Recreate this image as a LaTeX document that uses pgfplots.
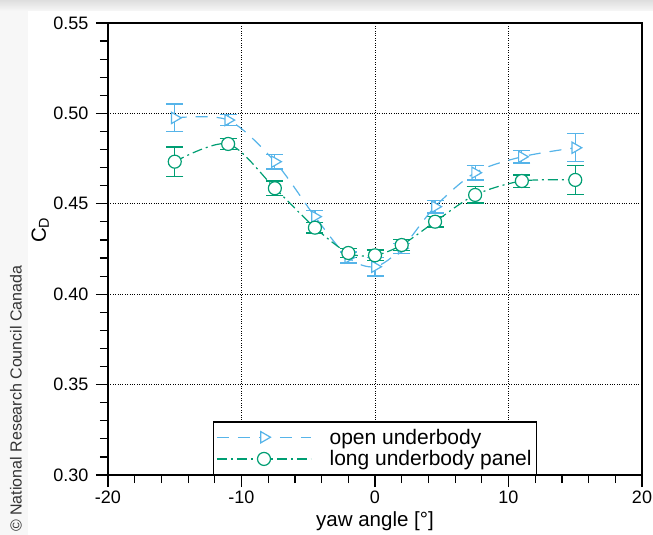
\documentclass[border=0pt]{standalone}
\usepackage{fontspec}
\setmainfont{Liberation Sans}
\usepackage{pgfplots}
\pgfplotsset{compat=1.18}
\definecolor{skyblue}{HTML}{56B4E9}
\definecolor{bgreen}{HTML}{009E73}

\pgfplotstableread{
x     y      e
-15   0.4975 0.0077
-11   0.4963 0.0031
-7.5  0.4733 0.0040
-4.5  0.4429 0.0033
-2    0.4203 0.0030
0     0.4152 0.0052
2     0.4254 0.0028
4.5   0.4484 0.0035
7.5   0.4672 0.0040
11    0.4760 0.0035
15    0.4810 0.0077
}\openbody

\pgfplotstableread{
x     y      e
-15   0.4733 0.0081
-11   0.4831 0.0030
-7.5  0.4586 0.0040
-4.5  0.4368 0.0030
-2    0.4228 0.0025
0     0.4215 0.0030
2     0.4272 0.0030
4.5   0.4401 0.0030
7.5   0.4549 0.0045
11    0.4626 0.0034
15    0.4632 0.0079
}\longpanel

\pgfplotsset{
  errs/.style={forget plot, draw=none, mark=none,
    error bars/.cd, y dir=both, y explicit,
    error bar style={draw=#1, solid, line width=1.2pt},
    error mark options={draw=#1, solid, line width=1.3pt, mark size=8.5pt, rotate=90}},
}

\begin{document}
\begin{tikzpicture}[x=1pt,y=1pt]
\useasboundingbox (-108,-60) rectangle (545,475);
% card shadow
\fill[black!3] (-108,-60) rectangle (-80,464);
\shade[top color=black!13, bottom color=black!3] (-108,464) rectangle (545,475);
\node[rotate=90, anchor=west, text=black!80, font=\fontsize{16}{19}\selectfont, inner sep=0pt]
  at (-92,-57) {© National Research Council Canada};
\begin{axis}[
  at={(0,0)}, anchor=south west,
  scale only axis, width=534pt, height=452pt,
  xmin=-20, xmax=20, ymin=0.30, ymax=0.55,
  xtick={-20,-10,0,10,20}, ytick={0.30,0.35,...,0.56},
  minor x tick num=4, minor y tick num=4,
  tick align=outside, xtick pos=left, ytick pos=left,
  major tick length=12pt, minor tick length=8pt,
  tick style={black, line width=1.2pt},
  axis line style={line width=1.6pt},
  grid=major, major grid style={black, dotted, line width=0.9pt},
  /pgf/number format/assume math mode=true,
  tick label style={font=\fontsize{18}{21}\selectfont},
  yticklabel style={xshift=-4pt, /pgf/number format/.cd, fixed, fixed zerofill, precision=2},
  label style={font=\fontsize{20.5}{24}\selectfont},
  xlabel={yaw angle [°]},
  ylabel={C\textsubscript{D}},
  xlabel style={at={(axis description cs:0.5,-0.102)}, anchor=center},
  ylabel style={at={(axis description cs:-0.127,0.542)}, anchor=center},
  legend style={at={(0.5,0)}, anchor=south, draw=black, line width=1.4pt,
    font=\fontsize{21}{23}\selectfont, inner xsep=3pt, inner ysep=5pt, row sep=1pt,
    /tikz/every odd column/.append style={column sep=16pt}},
  legend cell align=left,
  legend image code/.code={\draw[mark repeat=2, mark phase=2, #1]
    plot coordinates {(0pt,0pt) (47pt,0pt) (94pt,0pt)};},
]
% error bars first, so the open marks sit on top of them
\addplot[errs=skyblue] table[x=x, y=y, y error=e] {\openbody};
\addplot[errs=bgreen] table[x=x, y=y, y error=e] {\longpanel};

\addplot[skyblue, smooth, line width=1.2pt, dash pattern=on 12pt off 9pt,
  mark=triangle*, mark size=6.5pt, mark options={solid, fill=white, rotate=-90}]
  table[x=x, y=y] {\openbody};
\addlegendentry{open underbody}
\addplot[bgreen, smooth, line width=1.2pt, dash pattern=on 10pt off 4pt on 2pt off 4pt,
  mark=*, mark size=6.5pt, mark options={solid, fill=white}]
  table[x=x, y=y] {\longpanel};
\addlegendentry{long underbody panel}
\end{axis}
\end{tikzpicture}
\end{document}
